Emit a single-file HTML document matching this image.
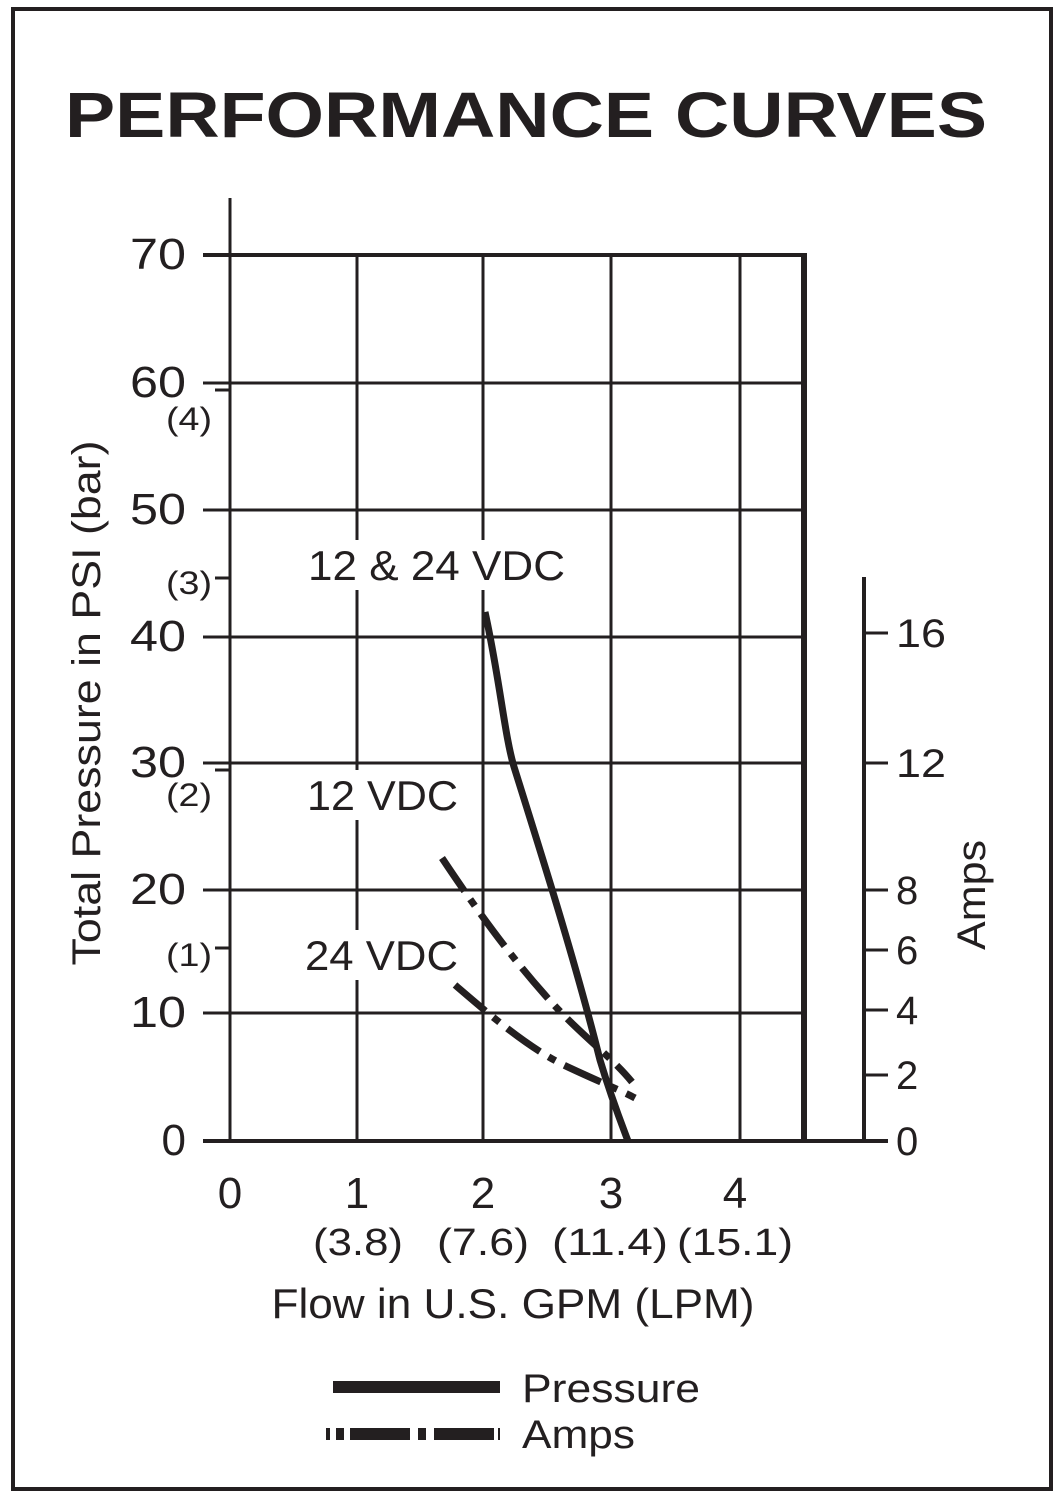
<!DOCTYPE html>
<html><head><meta charset="utf-8"><style>
html,body{margin:0;padding:0;background:#fff;}
svg{display:block;}
text{font-family:"Liberation Sans",Arial,sans-serif;fill:#231f20;}
</style></head><body>
<svg width="1063" height="1500" viewBox="0 0 1063 1500" xmlns="http://www.w3.org/2000/svg">
<rect x="13" y="9" width="1038" height="1480" fill="#fff" stroke="#231f20" stroke-width="4"/>
<text x="526" y="137" text-anchor="middle" font-size="64" font-weight="bold" textLength="922" lengthAdjust="spacingAndGlyphs">PERFORMANCE CURVES</text>
<g stroke="#231f20" stroke-width="3" fill="none">
<line x1="230" y1="198" x2="230" y2="1142"/>
<line x1="203" y1="255" x2="805" y2="255" stroke-width="4"/>
<line x1="203" y1="383" x2="805" y2="383"/>
<line x1="203" y1="510" x2="805" y2="510"/>
<line x1="203" y1="637" x2="805" y2="637"/>
<line x1="203" y1="763" x2="805" y2="763"/>
<line x1="203" y1="890" x2="805" y2="890"/>
<line x1="203" y1="1013" x2="805" y2="1013"/>
<line x1="203" y1="1141" x2="888" y2="1141" stroke-width="4"/>
<line x1="357" y1="255" x2="357" y2="1141"/>
<line x1="483" y1="255" x2="483" y2="1141"/>
<line x1="611" y1="255" x2="611" y2="1141"/>
<line x1="740" y1="255" x2="740" y2="1141"/>
<line x1="804" y1="253" x2="804" y2="1143" stroke-width="6"/>
<line x1="215" y1="390" x2="230" y2="390"/>
<line x1="215" y1="578" x2="230" y2="578"/>
<line x1="215" y1="770" x2="230" y2="770"/>
<line x1="215" y1="948" x2="230" y2="948"/>
<line x1="864" y1="577" x2="864" y2="1142" stroke-width="4"/>
<line x1="864" y1="633" x2="888" y2="633"/>
<line x1="864" y1="763" x2="888" y2="763"/>
<line x1="864" y1="890" x2="888" y2="890"/>
<line x1="864" y1="950" x2="888" y2="950"/>
<line x1="864" y1="1010" x2="888" y2="1010"/>
<line x1="864" y1="1075" x2="888" y2="1075"/>
</g>
<g font-size="44" text-anchor="end">
<text x="186" y="269" textLength="56" lengthAdjust="spacingAndGlyphs">70</text><text x="186" y="397" textLength="56" lengthAdjust="spacingAndGlyphs">60</text><text x="186" y="524" textLength="56" lengthAdjust="spacingAndGlyphs">50</text>
<text x="186" y="651" textLength="56" lengthAdjust="spacingAndGlyphs">40</text><text x="186" y="777" textLength="56" lengthAdjust="spacingAndGlyphs">30</text><text x="186" y="904" textLength="56" lengthAdjust="spacingAndGlyphs">20</text>
<text x="186" y="1027" textLength="56" lengthAdjust="spacingAndGlyphs">10</text><text x="186" y="1155">0</text>
</g>
<g font-size="32" text-anchor="end">
<text x="212" y="430" textLength="46" lengthAdjust="spacingAndGlyphs">(4)</text><text x="212" y="594" textLength="46" lengthAdjust="spacingAndGlyphs">(3)</text><text x="212" y="806" textLength="46" lengthAdjust="spacingAndGlyphs">(2)</text><text x="212" y="966" textLength="46" lengthAdjust="spacingAndGlyphs">(1)</text>
</g>
<g font-size="40">
<text x="896" y="647" textLength="50" lengthAdjust="spacingAndGlyphs">16</text><text x="896" y="777" textLength="50" lengthAdjust="spacingAndGlyphs">12</text><text x="896" y="904">8</text>
<text x="896" y="964">6</text><text x="896" y="1024">4</text><text x="896" y="1089">2</text><text x="896" y="1155">0</text>
</g>
<g font-size="44" text-anchor="middle">
<text x="230" y="1208">0</text><text x="357" y="1208">1</text><text x="483" y="1208">2</text>
<text x="611" y="1208">3</text><text x="735" y="1208">4</text>
</g>
<g font-size="38" text-anchor="middle">
<text x="358" y="1255" textLength="90" lengthAdjust="spacingAndGlyphs">(3.8)</text><text x="483" y="1255" textLength="92" lengthAdjust="spacingAndGlyphs">(7.6)</text><text x="610" y="1255" textLength="116" lengthAdjust="spacingAndGlyphs">(11.4)</text><text x="735" y="1255" textLength="116" lengthAdjust="spacingAndGlyphs">(15.1)</text>
</g>
<text x="513" y="1318" font-size="42" text-anchor="middle" textLength="483" lengthAdjust="spacingAndGlyphs">Flow in U.S. GPM (LPM)</text>
<text transform="translate(100,703) rotate(-90)" font-size="40" text-anchor="middle" textLength="525" lengthAdjust="spacingAndGlyphs">Total Pressure in PSI (bar)</text>
<text transform="translate(985,895) rotate(-90)" font-size="40" text-anchor="middle" textLength="110" lengthAdjust="spacingAndGlyphs">Amps</text>
<g fill="none" stroke="#231f20" stroke-width="7">
<path d="M485,612 C500,680 505,740 515,770 C540,850 575,960 600,1060 C612,1100 622,1125 628,1141"/>
<path d="M442,858 C470,900 505,950 545,995 C580,1035 610,1055 632,1082" stroke-dasharray="40,10,8,10"/>
<path d="M455,985 C490,1015 530,1050 570,1068 C600,1082 620,1090 635,1098" stroke-dasharray="40,10,8,10"/>
</g>
<rect x="302" y="540" width="266" height="50" fill="#fff"/>
<text x="308" y="580" font-size="42" textLength="257" lengthAdjust="spacingAndGlyphs">12 &amp; 24 VDC</text>
<rect x="302" y="770" width="160" height="50" fill="#fff"/>
<text x="307" y="810" font-size="42" textLength="151" lengthAdjust="spacingAndGlyphs">12 VDC</text>
<rect x="300" y="930" width="162" height="50" fill="#fff"/>
<text x="305" y="970" font-size="42" textLength="153" lengthAdjust="spacingAndGlyphs">24 VDC</text>
<line x1="333" y1="1387" x2="500" y2="1387" stroke="#231f20" stroke-width="12"/>
<line x1="326" y1="1434" x2="500" y2="1434" stroke="#231f20" stroke-width="12" stroke-dasharray="4,6,8,6,60,8,8,8,60"/>
<text x="522" y="1402" font-size="40" textLength="178" lengthAdjust="spacingAndGlyphs">Pressure</text>
<text x="522" y="1448" font-size="40" textLength="113" lengthAdjust="spacingAndGlyphs">Amps</text>
</svg>
</body></html>
